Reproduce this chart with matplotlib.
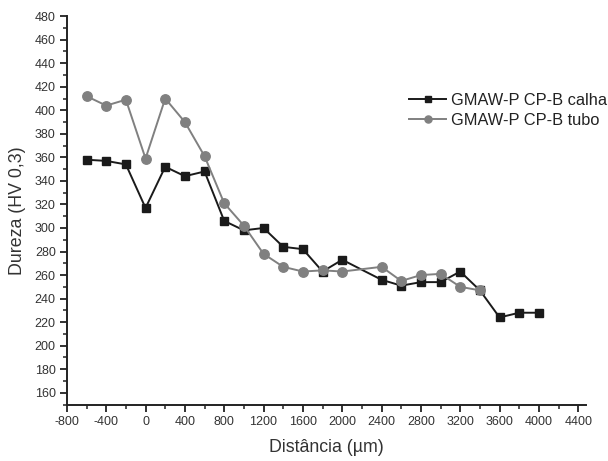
import matplotlib
matplotlib.use("Agg")
import matplotlib.pyplot as plt
from matplotlib.ticker import MultipleLocator

plt.rcParams['font.family'] = ['Liberation Sans', 'DejaVu Sans']
plt.rcParams['axes.unicode_minus'] = False

x_calha = [-600, -400, -200, 0, 200, 400, 600, 800, 1000, 1200, 1400, 1600, 1800, 2000,
           2400, 2600, 2800, 3000, 3200, 3400, 3600, 3800, 4000]
y_calha = [358, 357, 354, 317, 352, 344, 348, 306, 298, 300, 284, 282, 263, 273,
           256, 251, 254, 254, 263, 247, 224, 228, 228]

x_tubo = [-600, -400, -200, 0, 200, 400, 600, 800, 1000, 1200, 1400, 1600, 1800, 2000,
          2400, 2600, 2800, 3000, 3200, 3400]
y_tubo = [412, 404, 409, 359, 410, 390, 361, 321, 302, 278, 267, 263, 264, 263,
          267, 255, 260, 261, 250, 247]

labels = ['GMAW-P CP-B calha', 'GMAW-P CP-B tubo']

fig = plt.figure(figsize=(6.08, 4.61), dpi=100)
ax = fig.add_axes([0.110, 0.1225, 0.854, 0.8425])

ax.plot(x_calha, y_calha, color='#1a1a1a', marker='s', markersize=5.8, lw=1.4, label=labels[0])
ax.plot(x_tubo, y_tubo, color='#808080', marker='o', markersize=6.8, lw=1.4, label=labels[1])

ax.set_xlim(-800, 4480)
ax.set_ylim(150, 480)
ax.xaxis.set_major_locator(MultipleLocator(400))
ax.xaxis.set_minor_locator(MultipleLocator(200))
ax.yaxis.set_major_locator(MultipleLocator(20))
ax.yaxis.set_minor_locator(MultipleLocator(10))
ax.set_yticks(range(160, 481, 20))

for s in ['top', 'right']:
    ax.spines[s].set_visible(False)
for s in ['left', 'bottom']:
    ax.spines[s].set_linewidth(1.4)
    ax.spines[s].set_color('#222222')

ax.tick_params(which='major', direction='out', length=5, width=1.3, labelsize=9,
               colors='#222222', labelcolor='#333333', pad=3)
ax.tick_params(which='minor', direction='out', length=3, width=1.1, colors='#222222')

ax.set_xlabel('Distância (µm)', fontsize=12.8, color='#333333', labelpad=8)
ax.set_ylabel('Dureza (HV 0,3)', fontsize=12.8, color='#333333', labelpad=6)

ax.legend(loc='upper left', bbox_to_anchor=(0.63, 0.84), frameon=False, fontsize=11.8,
          handlelength=2.3, handletextpad=0.25, labelspacing=0.3, labelcolor='#222222',
          markerscale=0.75)

fig.savefig('out.png', dpi=100)
